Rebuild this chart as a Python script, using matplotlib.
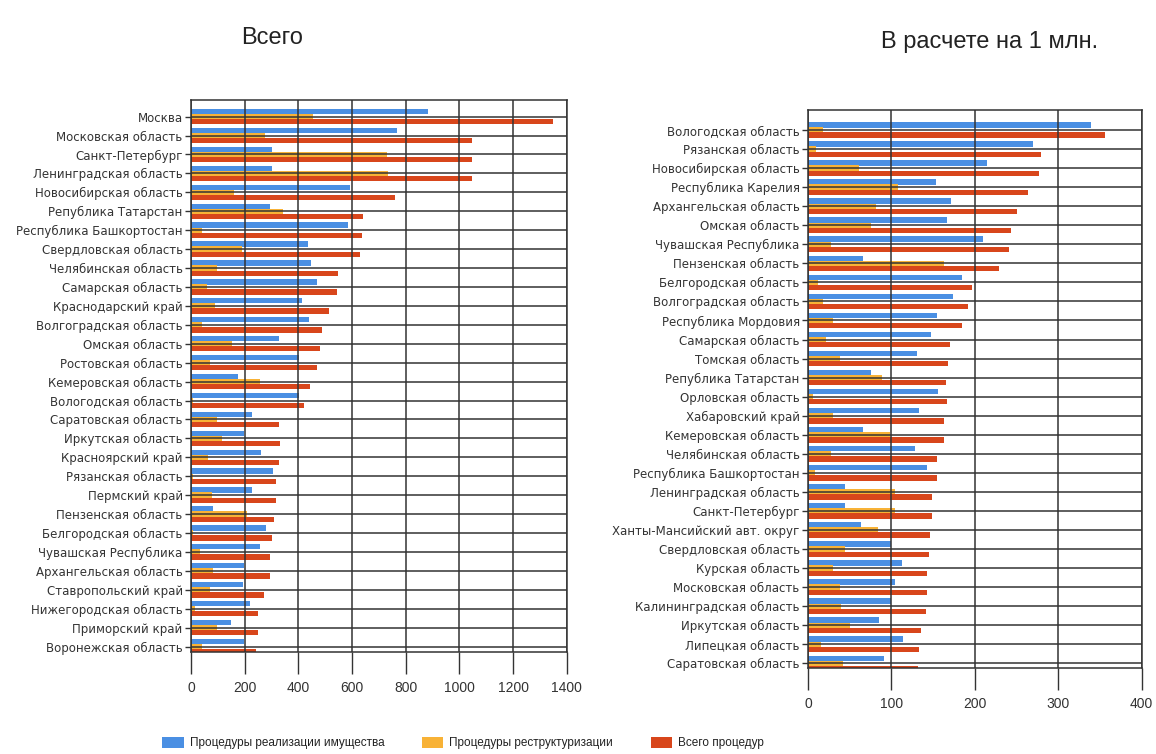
import matplotlib
matplotlib.use("Agg")
import matplotlib.pyplot as plt
import numpy as np
from matplotlib.patches import Patch

plt.rcParams['font.family'] = ['Liberation Sans', 'DejaVu Sans']

# ---- data: left panel (total) ----
regions_total = ["Москва", "Московская область", "Санкт-Петербург", "Ленинградская область",
                 "Новосибирская область", "Република Татарстан", "Республика Башкортостан",
                 "Свердловская область", "Челябинская область", "Самарская область",
                 "Краснодарский край", "Волгоградская область", "Омская область",
                 "Ростовская область", "Кемеровская область", "Вологодская область",
                 "Саратовская область", "Иркутская область", "Красноярский край",
                 "Рязанская область", "Пермский край", "Пензенская область",
                 "Белгородская область", "Чувашская Республика", "Архангельская область",
                 "Ставропольский край", "Нижегородская область", "Приморский край",
                 "Воронежская область"]
sale_total = [885, 766, 303, 303, 592, 294, 584, 437, 447, 471, 412, 441, 329, 402, 176,
              402, 226, 199, 261, 304, 226, 83, 279, 257, 199, 195, 220, 149, 199]
restr_total = [455, 276, 729, 735, 161, 344, 40, 189, 96, 58, 89, 40, 152, 71, 257,
               9, 96, 114, 65, 9, 77, 207, 9, 34, 83, 71, 15, 96, 40]
all_total = [1350, 1046, 1046, 1046, 760, 642, 636, 630, 549, 545, 515, 489, 481, 471, 443,
             421, 329, 332, 329, 315, 315, 310, 300, 296, 296, 271, 251, 251, 241]

# ---- data: right panel (per 1 mln) ----
regions_pc = ["Вологодская область", "Рязанская область", "Новосибирская область",
              "Республика Карелия", "Архангельская область", "Омская область",
              "Чувашская Республика", "Пензенская область", "Белгородская область",
              "Волгоградская область", "Республика Мордовия", "Самарская область",
              "Томская область", "Република Татарстан", "Орловская область",
              "Хабаровский край", "Кемеровская область", "Челябинская область",
              "Республика Башкортостан", "Ленинградская область", "Санкт-Петербург",
              "Ханты-Мансийский авт. округ", "Свердловская область", "Курская область",
              "Московская область", "Калининградская область", "Иркутская область",
              "Липецкая область", "Саратовская область"]
sale_pc = [339, 270, 214, 153, 171, 167, 210, 66, 185, 174, 155, 147, 131, 75, 156,
           133, 66, 128, 143, 44, 44, 63, 100, 113, 104, 100, 85, 114, 91]
restr_pc = [18, 10, 61, 108, 81, 75, 28, 163, 12, 18, 30, 22, 38, 89, 6,
            30, 98, 28, 8, 104, 104, 84, 44, 30, 38, 40, 50, 16, 42]
all_pc = [356, 279, 277, 264, 251, 243, 241, 229, 196, 192, 184, 170, 168, 166, 167,
          163, 163, 155, 155, 149, 149, 146, 145, 143, 143, 142, 135, 133, 132]

series_names = ["Процедуры реализации имущества", "Процедуры реструктуризации", "Всего процедур"]
colors = ["#4A8FE3", "#F8B236", "#D8461B"]
grid_c = "#333333"

W, H = 1156, 754
fig = plt.figure(figsize=(W / 100, H / 100), dpi=100)
fig.patch.set_facecolor("white")


def make_ax(px_left, px_right, px_top, px_bottom):
    return fig.add_axes([px_left / W, 1 - px_bottom / H,
                         (px_right - px_left) / W, (px_bottom - px_top) / H])


def draw(ax, cats, a, b, c, xmax, xstep, ytop, ybot):
    y = np.arange(len(cats))
    h = 0.28
    ax.barh(y - 0.27, a, height=h, color=colors[0], zorder=1)
    ax.barh(y, b, height=h, color=colors[1], zorder=1)
    ax.barh(y + 0.27, c, height=h, color=colors[2], zorder=1)
    ax.set_ylim(ybot, ytop)
    ax.set_xlim(0, xmax)
    ax.set_xticks(np.arange(0, xmax + 1, xstep))
    ax.set_yticks(y)
    ax.set_yticklabels(cats, family=['DejaVu Sans'])
    ax.set_axisbelow(False)
    ax.grid(True, color=grid_c, linewidth=1.1)
    for s in ax.spines.values():
        s.set_color(grid_c)
        s.set_linewidth(1.1)
    ax.tick_params(axis='y', length=4, width=1.0, color=grid_c, pad=2,
                   labelsize=8.5, labelcolor="#333333")
    ax.tick_params(axis='x', length=16, width=1.0, color=grid_c, pad=5,
                   labelsize=10, labelcolor="#333333")


ax1 = make_ax(191, 566.7, 100, 652)
draw(ax1, regions_total, sale_total, restr_total, all_total, 1400, 200, -0.88, 28.29)
ax2 = make_ax(808, 1141.7, 110, 668.3)
draw(ax2, regions_pc, sale_pc, restr_pc, all_pc, 400, 100, -1.05, 28.26)

fig.text(272 / W, 1 - 38 / H, "Всего", ha="center", va="center", fontsize=17, color="#222222")
fig.text(990 / W, 1 - 42 / H, "В расчете на 1 млн.", ha="center", va="center",
         fontsize=17, color="#222222")

handles = [Patch(facecolor=col, edgecolor='none') for col in colors]
fig.legend(handles, series_names, loc="center", bbox_to_anchor=(463 / W, 1 - 743 / H),
           ncol=3, frameon=False, fontsize=8.5, handlelength=1.8, handleheight=1.1,
           columnspacing=3.2, handletextpad=0.5, labelcolor="#222222")

fig.savefig("out.png", dpi=100, facecolor="white")
